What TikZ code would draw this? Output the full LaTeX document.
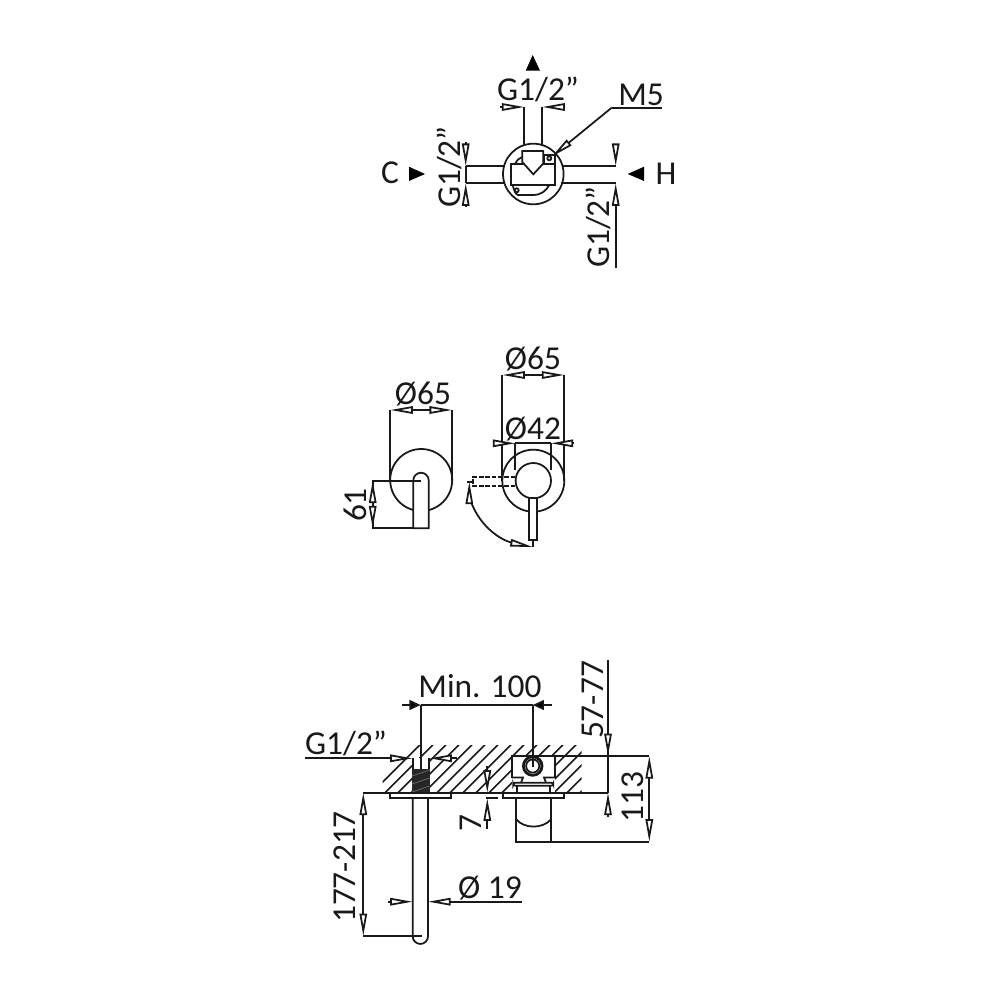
\documentclass[tikz,border=0pt]{standalone}
\usepackage{fontspec}
\setmainfont{Carlito}
\usetikzlibrary{arrows.meta}
\tikzset{
  part/.style={draw=black!90, line width=0.5pt},
  solidpart/.style={part, fill=white},
  dimtip/.style={part, -{Triangle[open, fill=white, length=6.4pt, width=2.1pt]}},
  bigtip/.style={part, -{Triangle[fill=black, length=3.2pt, width=2.8pt]}},
  dimtext/.style={font=\fontsize{9.5}{10}\selectfont, inner sep=0pt, text=black!90},
}
\begin{document}
\begin{tikzpicture}[x=0.01cm, y=-0.01cm]
\useasboundingbox (0,0) rectangle (1000,1000);

% top view
\fill[black] (532.7,55) -- (525.7,70.7) -- (540,70.7) -- cycle;
\fill[black] (409,166.7) -- (409,181) -- (425,174) -- cycle;
\fill[black] (627.7,174) -- (644,166.7) -- (644,181) -- cycle;
\node[dimtext] (valveC) at (390,173) {C};
\node[dimtext] (valveH) at (666,174) {H};
\node[dimtext] (sizeUp) at (538,89) {G1/2”};
\node[dimtext] (screwM) at (641,95) {M5};
\node[dimtext, rotate=90] (sizeLeft) at (449,167) {G1/2”};
\node[dimtext, rotate=90] (sizeRight) at (598,227) {G1/2”};

\draw[part] (524.3,107) -- (524.3,146);
\draw[part] (542.3,107) -- (542.3,146);
\draw[dimtip] (500,107) -- (524.3,107);
\draw[dimtip] (565,107) -- (542.3,107);
\draw[part] (465.7,166) -- (503.5,166);
\draw[part] (465.7,183.3) -- (505,183.3);
\draw[part] (563,166) -- (615.7,166);
\draw[part] (561,183.3) -- (615.7,183.3);
\draw[dimtip] (465.7,141.7) -- (465.7,166);
\draw[dimtip] (465.7,206.7) -- (465.7,183.3);
\draw[part] (465.7,166) -- (465.7,183.3);
\draw[dimtip] (615.7,146.7) -- (615.7,166);
\draw[dimtip] (615.7,268) -- (615.7,183.3);
\draw[part] (661.7,107.7) -- (611.7,107.7);
\draw[dimtip] (611.7,107.7) -- (551.7,156.7);

\draw[part] (533.3,174) circle [radius=30.3];
\draw[part] (515,164.3) .. controls (517,160) and (519,158) .. (522.3,157);
\draw[part] (512.7,185) .. controls (514,190) and (515,194) .. (518,195)
  -- (533,195) .. controls (541,195) and (546,191) .. (549.3,185);
\draw[solidpart] (544,155) rectangle (555,164.3);
\draw[solidpart] (511,164.3) rectangle (555,185);
\draw[solidpart] (522.3,162) -- (522.3,151) -- (543.3,151) -- (543.3,163.5) -- (533.3,174.3) -- cycle;
\draw[part] (549.3,158.3) circle [radius=2];
\draw[part] (516.7,190.3) circle [radius=2];

% front and side view
\node[dimtext] (diaSide) at (423,394) {Ø65};
\node[dimtext] (diaFront) at (533,359) {Ø65};
\node[dimtext] (diaInner) at (533,429) {Ø42};
\node[dimtext, rotate=90] (reach) at (355,505) {61};

\draw[part] (390.3,410) -- (390.3,481);
\draw[part] (452,410) -- (452,481);
\draw[part] (421.2,480) circle [radius=31];
\draw[dimtip] (421,410) -- (390.3,410);
\draw[dimtip] (421,410) -- (452,410);
\draw[solidpart] (413.3,528.3) -- (413.3,480.4) arc [start angle=180, end angle=360, x radius=7.7, y radius=7.7]
  -- (428.7,528.3) -- cycle;
\draw[part] (420.7,480.7) -- (372.7,480.7) -- (372.7,528.3) -- (413.3,528.3);
\draw[dimtip] (372.7,505) -- (372.7,480.7);
\draw[dimtip] (372.7,505) -- (372.7,528.3);

\draw[part] (502.3,375) -- (502.3,481);
\draw[part] (564.3,375) -- (564.3,481);
\draw[dimtip] (533,375) -- (502.3,375);
\draw[dimtip] (533,375) -- (564.3,375);
\draw[part] (515.3,443.3) -- (515.3,470);
\draw[part] (550.7,443.3) -- (550.7,470);
\draw[dimtip] (496,443.3) -- (515.3,443.3);
\draw[dimtip] (574,443.3) -- (550.7,443.3);
\draw[part] (515.3,443.3) -- (550.7,443.3);
\draw[part] (533.3,480.7) circle [radius=31];
\draw[part, dash pattern=on 1.3pt off 0.5pt] (515.3,476.7) -- (473.3,476.7) -- (473.3,486) -- (515.3,486);
\draw[solidpart] (533.3,480.7) circle [radius=17.7];
\draw[solidpart] (529,498) rectangle (537.3,540);
\draw[part] (466.5,481.7) -- (474,481.7);
\draw[part] (532.7,540) -- (532.7,547);
\draw[part] (469.5,497) .. controls (477,524) and (500,541) .. (514,543);
\draw[dimtip] (469.3,503) -- (469.3,481.7);
\draw[dimtip] (512,543) -- (532.7,547);

% wall mounting view
\begin{scope}
\clip (382.7,745) rectangle (581.7,792.7);
\foreach \hx in {0,13,...,260} {
  \draw[part, line width=0.42pt] (\hx+372,792.7) -- (\hx+372+48,744.7);
}
\end{scope}
\fill[white] (412.7,758.3) rectangle (429.3,792.7);
\fill[white] (511.7,756) rectangle (555,792.7);

\node[dimtext] (minDist) at (480,686) {Min. 100};
\node[dimtext] (sizeWall) at (346,743) {G1/2”};
\node[dimtext] (diaSpout) at (490,888) {Ø 19};
\node[dimtext, rotate=90] (spoutLen) at (345,867) {177-217};
\node[dimtext, rotate=90] (plateGap) at (471,823) {7};
\node[dimtext, rotate=90] (wallDepth) at (593,700) {57-77};
\node[dimtext, rotate=90] (bodyLen) at (633,797) {113};

\draw[part] (420.7,705) -- (420.7,770);
\draw[part] (532.7,705) -- (532.7,766);
\draw[part] (420.7,705) -- (532.7,705);
\draw[bigtip] (402.3,705) -- (420.7,705);
\draw[bigtip] (551.7,705) -- (532.7,705);

\draw[part] (412.7,758.3) -- (412.7,769);
\draw[part] (429.3,758.3) -- (429.3,769);
\draw[part] (305,758.3) -- (391,758.3);
\draw[dimtip] (391,758.3) -- (412.7,758.3);
\draw[dimtip] (456.7,758.3) -- (429.3,758.3);
\fill[black!85] (411.7,768.5) rectangle (430,792.7);
\foreach \hy in {776,784,792} {
  \draw[black!50, line width=0.15pt] (412,\hy) -- (429.5,\hy-6);
}

\draw[part] (363.3,792.7) -- (608,792.7);
\draw[solidpart] (390,792.7) rectangle (451,798.3);
\draw[part] (412.7,798.3) -- (412.7,936.3) arc [start angle=180, end angle=0, x radius=7.65, y radius=7.65]
  -- (428,798.3);
\draw[part] (421.7,936) -- (363.3,936);
\draw[dimtip] (363.3,865) -- (363.3,792.7);
\draw[dimtip] (363.3,865) -- (363.3,936);
\draw[part] (388.3,901.7) -- (393,901.7);
\draw[dimtip] (388.3,901.7) -- (412.7,901.7);
\draw[part] (522,901.7) -- (448,901.7);
\draw[dimtip] (452,901.7) -- (428,901.7);

\draw[dimtip] (487.3,766) -- (487.3,792.7);
\draw[dimtip] (487.3,829.3) -- (487.3,798.3);
\draw[part] (485.7,798.3) -- (498.3,798.3);

% valve body in the wall
\draw[part] (551,756) -- (649.3,756);
\draw[part] (511.7,777.5) -- (511.7,756) -- (555,756) -- (555,777.5);
\draw[part] (511.7,777.5) -- (523,777.5) -- (521,782.7);
\draw[part] (555,777.5) -- (544,777.5) -- (546,782.7);
\draw[solidpart, rounded corners=0.6pt] (513.3,782.7) rectangle (553.3,785.7);
\draw[part] (516.7,785.7) -- (516.7,792.7);
\draw[part] (550,785.7) -- (550,792.7);
\draw[solidpart, line width=0.8pt] (532.7,766) circle [radius=9.3];
\draw[part] (532.7,766) circle [radius=6.6];
\draw[part] (532.7,705) -- (532.7,767);
\draw[solidpart] (502.7,792.7) rectangle (564.3,798.3);
\draw[part] (516.3,798.3) -- (516.3,841.7) -- (649.3,841.7);
\draw[part] (551,798.3) -- (551,841.7);
\draw[part] (516.3,819.3) .. controls (524,829) and (543,829) .. (551,819.3);
\draw[dimtip] (649.3,800) -- (649.3,756);
\draw[dimtip] (649.3,800) -- (649.3,841.7);
\draw[part] (608,660) -- (608,792.7);
\draw[dimtip] (608,700) -- (608,756);
\draw[dimtip] (608,816.7) -- (608,792.7);
\end{tikzpicture}
\end{document}
